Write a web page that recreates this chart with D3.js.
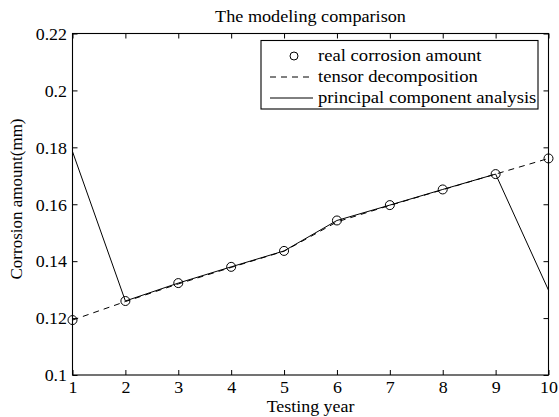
<!DOCTYPE html>
<html><head><meta charset="utf-8">
<script src="https://cdn.jsdelivr.net/npm/d3@7"></script>
<style>body{margin:0;background:#fff}svg{display:block}text{font-family:"Liberation Serif","Times New Roman",serif;fill:#000}</style>
</head><body>
<script>
const years = [1,2,3,4,5,6,7,8,9,10];
const realValues = [0.1193,0.1260,0.1323,0.1380,0.1436,0.1543,0.1597,0.1652,0.1706,0.1761];
const tensorValues = [0.1193,0.1258,0.1320,0.1378,0.1435,0.1538,0.1596,0.1651,0.1706,0.1761];
const pcaValues = [0.1785,0.1260,0.1323,0.1380,0.1436,0.1543,0.1597,0.1652,0.1706,0.1298];
const xTicks = [1,2,3,4,5,6,7,8,9,10];
const yTicks = [0.1,0.12,0.14,0.16,0.18,0.2,0.22];
const legendLabels = ["real corrosion amount","tensor decomposition","principal component analysis"];

const W=559,H=417;
const m={l:72.5,r:548.5,t:33.5,b:375};
const SX=1.12;
const FF='"Liberation Serif","Times New Roman",serif';
const svg=d3.select("body").append("svg").attr("width",W).attr("height",H);
const x=d3.scaleLinear().domain([1,10]).range([m.l,m.r]);
const y=d3.scaleLinear().domain([0.1,0.22]).range([m.b,m.t]);

svg.append("rect").attr("x",m.l).attr("y",m.t).attr("width",m.r-m.l).attr("height",m.b-m.t)
  .attr("fill","none").attr("stroke","#000").attr("stroke-width",1.1);

const fmt=d=>String(+d.toFixed(2));
const ax=(g,a)=>{g.call(a);g.attr("font-family",FF).attr("font-size",16);g.select(".domain").remove();g.selectAll("line").attr("stroke","#000");};
svg.append("g").attr("transform",`translate(0,${m.b})`)
  .call(g=>ax(g,d3.axisBottom(x).tickValues(xTicks).tickSize(-5).tickPadding(0).tickFormat(d3.format("d"))))
  .call(g=>g.selectAll("text").attr("dy",null).attr("y",18).attr("transform",`scale(${SX},1)`));
svg.append("g").attr("transform",`translate(0,${m.t})`).call(g=>ax(g,d3.axisTop(x).tickValues(xTicks).tickSize(-5).tickFormat("")));
svg.append("g").attr("transform",`translate(${m.l},0)`)
  .call(g=>ax(g,d3.axisLeft(y).tickValues(yTicks).tickSize(-5).tickFormat(fmt)))
  .call(g=>g.selectAll("text").attr("x",-5.5/SX).attr("dy","0.36em").attr("transform",`scale(${SX},1)`));
svg.append("g").attr("transform",`translate(${m.r},0)`).call(g=>ax(g,d3.axisRight(y).tickValues(yTicks).tickSize(-5).tickFormat("")));

const line=d3.line().x((d,i)=>x(years[i])).y(d=>y(d));
svg.append("path").datum(pcaValues).attr("d",line).attr("fill","none").attr("stroke","#000").attr("stroke-width",1);
svg.append("path").datum(tensorValues).attr("d",line).attr("fill","none").attr("stroke","#000").attr("stroke-width",1).attr("stroke-dasharray","6,5");
svg.selectAll("circle.pt").data(realValues).join("circle").attr("class","pt")
  .attr("cx",(d,i)=>x(years[i])).attr("cy",d=>y(d)).attr("r",4.5).attr("fill","none").attr("stroke","#000").attr("stroke-width",1);

const stext=(px,py,size,anchor,t,sx)=>svg.append("text").attr("transform",`translate(${px},${py}) scale(${sx},1)`)
  .attr("text-anchor",anchor).style("font-size",size+"px").text(t);
stext((m.l+m.r)/2,21.5,17,"middle","The modeling comparison",1.07);
stext((m.l+m.r)/2,411.5,16,"middle","Testing year",SX);
svg.append("text").attr("transform",`translate(22,199) rotate(-90)`).attr("text-anchor","middle").style("font-size","17px").text("Corrosion amount(mm)");

const lg=svg.append("g");
lg.append("rect").attr("x",261).attr("y",40.5).attr("width",277).attr("height",68.5).attr("fill","#fff").attr("stroke","#000").attr("stroke-width",1.1);
const rowsY=[56,77,98];
lg.append("circle").attr("cx",294).attr("cy",rowsY[0]).attr("r",4).attr("fill","none").attr("stroke","#000");
lg.append("line").attr("x1",270).attr("x2",313).attr("y1",rowsY[1]).attr("y2",rowsY[1]).attr("stroke","#000").attr("stroke-dasharray","6,5");
lg.append("line").attr("x1",270).attr("x2",313).attr("y1",rowsY[2]).attr("y2",rowsY[2]).attr("stroke","#000");
legendLabels.forEach((t,i)=>stext(318,rowsY[i]+5,16.5,"start",t,1.13));
</script>
</body></html>
